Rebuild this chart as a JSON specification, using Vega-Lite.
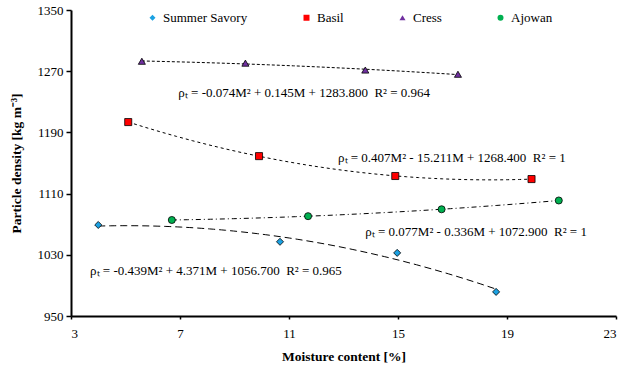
{
  "$schema": "https://vega.github.io/schema/vega-lite/v6.json",
  "width": 545,
  "height": 306,
  "autosize": "none",
  "padding": {"left": 71, "top": 10, "right": 10, "bottom": 49},
  "background": "white",
  "config": {
    "view": {"stroke": null},
    "font": "Liberation Serif",
    "axis": {
      "grid": false,
      "domainColor": "black",
      "domainWidth": 2,
      "tickColor": "black",
      "tickWidth": 1.5,
      "labelFont": "Liberation Serif",
      "labelFontSize": 13,
      "labelColor": "black",
      "titleFont": "Liberation Serif",
      "titleFontSize": 13.5,
      "titleFontWeight": "bold",
      "titleColor": "black"
    },
    "legend": {
      "labelFont": "Liberation Serif",
      "labelFontSize": 13,
      "labelColor": "black"
    }
  },
  "resolve": {"legend": {"strokeDash": "independent"}},
  "datasets": {
    "pts": [
      {"series": "Summer Savory", "x": 4.0, "y": 1069},
      {"series": "Summer Savory", "x": 10.67, "y": 1047},
      {"series": "Summer Savory", "x": 14.97, "y": 1032.5},
      {"series": "Summer Savory", "x": 18.6, "y": 981.5},
      {"series": "Basil", "x": 5.1, "y": 1203.5},
      {"series": "Basil", "x": 9.9, "y": 1159},
      {"series": "Basil", "x": 14.9, "y": 1133},
      {"series": "Basil", "x": 19.9, "y": 1129},
      {"series": "Cress", "x": 5.6, "y": 1283},
      {"series": "Cress", "x": 9.4, "y": 1280.5},
      {"series": "Cress", "x": 13.8, "y": 1271.5},
      {"series": "Cress", "x": 17.2, "y": 1266},
      {"series": "Ajowan", "x": 6.7, "y": 1075.5},
      {"series": "Ajowan", "x": 11.7, "y": 1080.5},
      {"series": "Ajowan", "x": 16.6, "y": 1089.5},
      {"series": "Ajowan", "x": 20.9, "y": 1101}
    ],
    "eqs": [
      {"x": 6.94, "y": 1241.5, "label": "ρₜ = -0.074M² + 0.145M + 1283.800 \u00a0R² = 0.964"},
      {"x": 12.8, "y": 1157, "label": "ρₜ = 0.407M² - 15.211M + 1268.400 \u00a0R² = 1"},
      {"x": 13.8, "y": 1060, "label": "ρₜ = 0.077M² - 0.336M + 1072.900 \u00a0R² = 1"},
      {"x": 3.7, "y": 1009, "label": "ρₜ = -0.439M² + 4.371M + 1056.700 \u00a0R² = 0.965"}
    ]
  },
  "layer": [
    {
      "data": {"name": "pts"},
      "transform": [
        {"regression": "y", "on": "x", "groupby": ["series"], "method": "poly", "order": 2}
      ],
      "mark": {"type": "line", "color": "black", "strokeWidth": 1},
      "encoding": {
        "x": {"field": "x", "type": "quantitative", "scale": {"domain": [3, 23], "nice": false, "zero": false},
              "axis": {"values": [3, 7, 11, 15, 19, 23], "format": "d", "title": "Moisture content [%]", "tickSize": 3, "labelPadding": 8, "titlePadding": 9}},
        "y": {"field": "y", "type": "quantitative", "scale": {"domain": [950, 1350], "nice": false, "zero": false},
              "axis": {"values": [950, 1030, 1110, 1190, 1270, 1350], "format": "d", "title": "Particle density [kg m⁻³]", "tickSize": 5, "labelPadding": 3, "titlePadding": 14}},
        "detail": {"field": "series"},
        "strokeDash": {"field": "series", "type": "nominal",
          "scale": {"domain": ["Summer Savory", "Basil", "Cress", "Ajowan"], "range": [[7, 4], [3, 3], [3, 2], [5, 3, 1, 3]]},
          "legend": null}
      }
    },
    {
      "data": {"name": "pts"},
      "mark": {"type": "point", "filled": true, "stroke": "black", "strokeWidth": 0.8, "opacity": 1, "size": 50},
      "encoding": {
        "x": {"field": "x", "type": "quantitative"},
        "y": {"field": "y", "type": "quantitative"},
        "shape": {"field": "series", "type": "nominal",
          "scale": {"domain": ["Summer Savory", "Basil", "Cress", "Ajowan"], "range": ["diamond", "square", "triangle-up", "circle"]},
          "legend": {"title": null, "orient": "none", "legendX": 75, "legendY": 1, "direction": "horizontal", "columnPadding": 52, "symbolSize": 36, "symbolStrokeColor": "black", "symbolStrokeWidth": 0.8, "labelOffset": 4}},
        "fill": {"field": "series", "type": "nominal",
          "scale": {"domain": ["Summer Savory", "Basil", "Cress", "Ajowan"], "range": ["#1BA1E2", "#FF0000", "#7030A0", "#00B050"]},
          "legend": {"title": null, "orient": "none", "legendX": 75, "legendY": 1, "direction": "horizontal", "columnPadding": 52, "symbolSize": 36, "symbolStrokeColor": "black", "symbolStrokeWidth": 0.8, "labelOffset": 4}}
      }
    },
    {
      "data": {"name": "eqs"},
      "mark": {"type": "text", "align": "left", "baseline": "middle", "font": "Liberation Serif", "fontSize": 13, "color": "black"},
      "encoding": {
        "x": {"field": "x", "type": "quantitative"},
        "y": {"field": "y", "type": "quantitative"},
        "text": {"field": "label"}
      }
    }
  ]
}
